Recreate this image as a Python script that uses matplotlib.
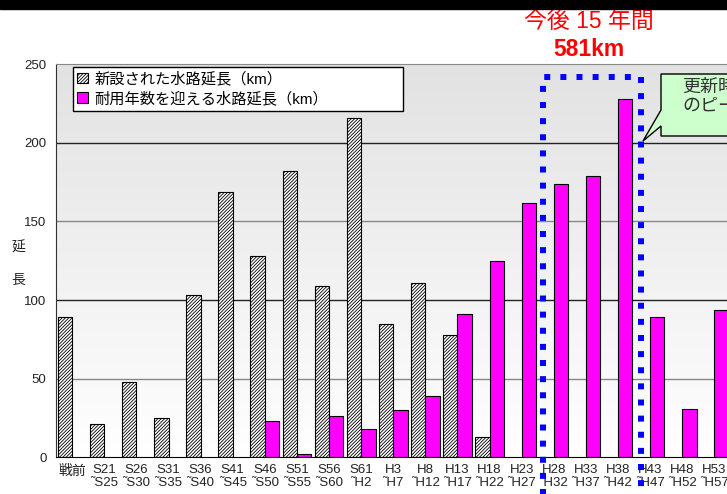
import numpy as np
import matplotlib.pyplot as plt
from matplotlib.patches import Patch, Polygon, Rectangle
from matplotlib.colors import LinearSegmentedColormap

plt.rcParams['font.family'] = ['Liberation Sans', 'Noto Sans CJK JP']
plt.rcParams['hatch.linewidth'] = 0.6

# five-year periods (戦前 = pre-war)
periods = ['戦前', 'S21\n˜S25', 'S26\n˜S30', 'S31\n˜S35', 'S36\n˜S40', 'S41\n˜S45',
           'S46\n˜S50', 'S51\n˜S55', 'S56\n˜S60', 'S61\n˜H2', 'H3\n˜H7', 'H8\n˜H12',
           'H13\n˜H17', 'H18\n˜H22', 'H23\n˜H27', 'H28\n˜H32', 'H33\n˜H37', 'H38\n˜H42',
           'H43\n˜H47', 'H48\n˜H52', 'H53\n˜H57']
# km of canal built in each period
built = [89, 21, 48, 25, 103, 169, 128, 182, 109, 216, 85, 111, 78, 13,
         0, 0, 0, 0, 0, 0, 0]
# km of canal reaching its service life in each period
aging = [0, 0, 0, 0, 0, 0, 23, 2, 26, 18, 30, 39, 91, 125,
         162, 174, 179, 228, 89, 31, 94]
peak = [15, 16, 17]  # next 15 years: H28-H42
yticks = [0, 50, 100, 150, 200, 250]

W, H = 727, 494


def px(x, y):
    # pixel position -> figure fraction
    return x / W, 1 - y / H


fig = plt.figure(figsize=(W / 100, H / 100), dpi=100)
ax = fig.add_axes([56.2 / W, 1 - 457.3 / H, 674.1 / W, 393 / H])

# grey-to-white plot background
bg = LinearSegmentedColormap.from_list('bg', ['#ffffff', '#e2e2e2'])
ax.imshow(np.linspace(0, 1, 256).reshape(-1, 1), extent=[0, 1, 0, 1],
          transform=ax.transAxes, cmap=bg, aspect='auto', origin='lower', zorder=0)

for v in yticks[1:-1]:
    ax.axhline(v, color='#222222' if v % 100 == 0 else '#888888', lw=1, zorder=1)

x = np.arange(len(periods))
b = np.array(built)
a = np.array(aging)
bw = 0.45
ax.bar(x[b > 0] - bw / 2, b[b > 0], bw, color='white', edgecolor='black',
       hatch='//////////', lw=0.8, zorder=2)
ax.bar(x[a > 0] + bw / 2, a[a > 0], bw, color='#ff00ff', edgecolor='black',
       lw=0.8, zorder=2)

ax.set_xlim(-0.5, len(periods) - 0.5)
ax.set_ylim(0, 250)
ax.set_xticks(x, periods)
ax.set_yticks(yticks)
ax.tick_params(axis='x', length=0, pad=5, labelsize=9.5, colors='#222222')
ax.tick_params(axis='y', length=0, pad=7, labelsize=9.5, colors='#222222')
for lab in ax.get_xticklabels():
    lab.set_linespacing(1.1)
ax.get_xticklabels()[0].set_fontsize(10)

ax.spines['right'].set_visible(False)
ax.spines['top'].set_color('#888888')
ax.spines['left'].set_color('#333333')
ax.spines['bottom'].set_color('black')

fig.text(*px(18, 248), '延', ha='center', va='center', fontsize=10, color='#222222')
fig.text(*px(18, 280), '長', ha='center', va='center', fontsize=10, color='#222222')

handles = [Patch(facecolor='white', edgecolor='black', hatch='//////////', lw=0.8),
           Patch(facecolor='#ff00ff', edgecolor='black', lw=0.8)]
leg = ax.legend(handles, ['新設された水路延長（km）', '耐用年数を迎える水路延長（km）'],
                loc='upper left', bbox_to_anchor=(0.0245, 0.993, 0.4895, 0.0),
                mode='expand', fontsize=11, handlelength=0.7, handleheight=0.7,
                handletextpad=0.4, labelspacing=0.3, borderpad=0.3,
                borderaxespad=0, fancybox=False, framealpha=1, edgecolor='black')
leg.get_frame().set_linewidth(1)
leg.set_zorder(4)

# dotted frame around the peak window
xl, xr = peak[0] - 0.35, peak[-1] + 0.73
ax.plot([xl, xl, xr, xr], [-30, 242, 242, -30], color='#0000ff', lw=4.3,
        linestyle=(0, (1, 1.7)), dash_capstyle='butt', clip_on=False, zorder=5)

total = sum(aging[i] for i in peak)
fig.text(*px(589, 21), '今後 15 年間', ha='center', va='center', fontsize=16.5,
         color='#ff0000')
fig.text(*px(589, 50), f'{total}km', ha='center', va='center', fontsize=16.5,
         color='#ff0000', fontweight='bold')

# callout box
pts = [(661, 74), (770, 74), (770, 136), (661, 136), (661, 126), (643, 141), (661, 110)]
fig.add_artist(Polygon([px(*p) for p in pts], closed=True, transform=fig.transFigure,
                       facecolor='#ccffcc', edgecolor='black', lw=1, zorder=6))
fig.text(*px(682, 79), '更新時期\nのピーク', ha='left', va='top', fontsize=13,
         linespacing=1.2, color='#333333', zorder=7)

# black title band
fig.add_artist(Rectangle(px(0, 9), 1, 9 / H, transform=fig.transFigure,
                         color='black', zorder=8))

fig.savefig('out.png', dpi=100)
